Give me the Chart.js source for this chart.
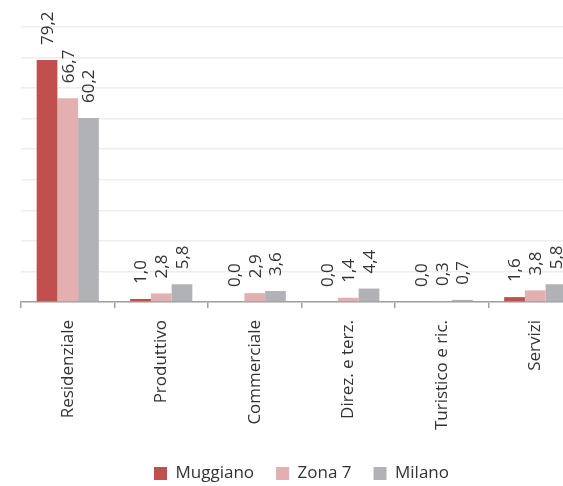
<!DOCTYPE html>
<html>
<head>
<meta charset="utf-8">
<script src="https://cdn.jsdelivr.net/npm/chart.js@4"></script>
<style>
    html, body { margin: 0; padding: 0; background: #fff; }
    #frame { width: 563px; height: 486px; overflow: hidden; }
    #wrap { width: 611px; height: 486px; position: relative; }
</style>
</head>
<body>
<div id="frame"><div id="wrap"><canvas id="chart"></canvas></div></div>
<script>
// --- Data ---
const categories = ['Residenziale', 'Produttivo', 'Commerciale', 'Direz. e terz.', 'Turistico e ric.', 'Servizi'];
const muggiano = [79.2, 1.0, 0.0, 0.0, 0.0, 1.6];
const zona7 = [66.7, 2.8, 2.9, 1.4, 0.3, 3.8];
const milano = [60.2, 5.8, 3.6, 4.4, 0.7, 5.8];
const yTicks = [0, 10, 20, 30, 40, 50, 60, 70, 80, 90];

const FONT = '"Open Sans", sans-serif';
const TEXT_COLOR = '#333333';

function fmt(v) {
    return v.toFixed(1).replace('.', ',');
}

// draws the rotated value above each bar
const valueLabels = {
    id: 'valueLabels',
    afterDatasetsDraw(chart) {
        const ctx = chart.ctx;
        ctx.save();
        ctx.font = '17px ' + FONT;
        ctx.fillStyle = TEXT_COLOR;
        ctx.textAlign = 'left';
        ctx.textBaseline = 'middle';
        chart.data.datasets.forEach((ds, i) => {
            chart.getDatasetMeta(i).data.forEach((bar, j) => {
                ctx.save();
                ctx.translate(bar.x + 1, bar.y - 15);
                ctx.rotate(-Math.PI / 2);
                ctx.fillText(fmt(ds.data[j]), 0, 0);
                ctx.restore();
            });
        });
        ctx.restore();
    }
};

new Chart(document.getElementById('chart'), {
    type: 'bar',
    data: {
        labels: categories,
        datasets: [
            { label: 'Muggiano', data: muggiano, backgroundColor: '#c0504d' },
            { label: 'Zona 7', data: zona7, backgroundColor: '#e3afb0' },
            { label: 'Milano', data: milano, backgroundColor: '#b1b2b6' }
        ]
    },
    options: {
        responsive: true,
        maintainAspectRatio: false,
        animation: false,
        datasets: {
            bar: { categoryPercentage: 0.665, barPercentage: 1.0 }
        },
        layout: { padding: { top: 27, left: 21, right: 29, bottom: -6 } },
        plugins: {
            tooltip: { enabled: false },
            legend: {
                position: 'bottom',
                labels: {
                    boxWidth: 13,
                    boxHeight: 13,
                    padding: 22,
                    color: TEXT_COLOR,
                    font: { family: FONT, size: 17 }
                }
            }
        },
        scales: {
            x: {
                grid: {
                    offset: true,
                    drawOnChartArea: false,
                    drawTicks: true,
                    tickLength: 6,
                    color: '#a0a0a0',
                    lineWidth: 1.5
                },
                border: { color: '#a0a0a0', width: 1.5 },
                ticks: {
                    minRotation: 90,
                    maxRotation: 90,
                    padding: 12,
                    color: TEXT_COLOR,
                    font: { family: FONT, size: 17 }
                },
                afterFit(scale) { scale.height = 141; }
            },
            y: {
                min: 0,
                max: 90,
                afterBuildTicks(scale) { scale.ticks = yTicks.map(v => ({ value: v })); },
                ticks: { display: false },
                grid: { color: '#ededed', lineWidth: 1.5, drawTicks: false },
                border: { display: false }
            }
        }
    },
    plugins: [valueLabels]
});
</script>
</body>
</html>
